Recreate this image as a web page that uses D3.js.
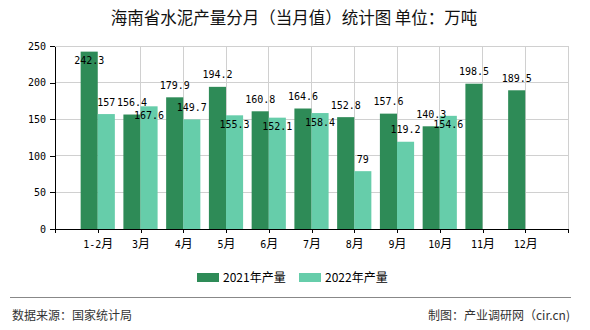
<!DOCTYPE html>
<html><head><meta charset="utf-8">
<script src="https://cdn.jsdelivr.net/npm/d3@7/dist/d3.min.js"></script>
<style>
html,body{margin:0;padding:0;background:#fff;}
svg{display:block;}
</style></head>
<body>
<svg id="chart" width="590" height="330"></svg>
<script>
const categories = ["1-2月","3月","4月","5月","6月","7月","8月","9月","10月","11月","12月"];
const values2021 = [242.3,156.4,179.9,194.2,160.8,164.6,152.8,157.6,140.3,198.5,189.5];
const values2022 = [157,167.6,149.7,155.3,152.1,158.4,79,119.2,154.6,null,null];
const seriesNames = ["2021年产量","2022年产量"];
const yTicks = [0,50,100,150,200,250];
const titleText = "海南省水泥产量分月（当月值）统计图 单位：万吨";
const sourceText = "数据来源：国家统计局";
const makerText = "制图：产业调研网（cir.cn)";

const colors = ["#2e8b57","#66cdaa"];
const W = 590, H = 330;
const plot = {left:55, right:568, top:46, bottom:229};
const monoFont = "'DejaVu Sans Mono', 'Liberation Mono', monospace";
const cjkFont = "'Noto Sans CJK SC', 'Noto Sans', sans-serif";

const svg = d3.select("#chart");

const x = d3.scalePoint().domain(categories).range([plot.left, plot.right]).padding(1);
const y = d3.scaleLinear().domain([0, 250]).range([plot.bottom, plot.top]);
const barW = x.step() * 0.4;

// title
svg.append("text").attr("x", 294).attr("y", 18.5).attr("dy", "0.35em")
  .attr("text-anchor", "middle").attr("font-family", cjkFont).attr("font-size", 16.5)
  .attr("fill", "#111").text(titleText);

// grid
const grid = svg.append("g");
grid.selectAll("line.h").data(yTicks.filter(t => t > 0)).join("line")
  .attr("x1", plot.left).attr("x2", plot.right)
  .attr("y1", d => y(d)).attr("y2", d => y(d))
  .attr("stroke", "#d0d0d0").attr("stroke-width", 1).attr("shape-rendering", "crispEdges");
grid.selectAll("line.v").data(categories.slice(1)).join("line")
  .attr("x1", d => x(d)).attr("x2", d => x(d))
  .attr("y1", plot.top).attr("y2", plot.bottom)
  .attr("stroke", "#d0d0d0").attr("stroke-width", 1).attr("shape-rendering", "crispEdges");
grid.append("line").attr("x1", plot.right).attr("x2", plot.right)
  .attr("y1", plot.top).attr("y2", plot.bottom)
  .attr("stroke", "#d0d0d0").attr("shape-rendering", "crispEdges");

// bars
const series = [values2021, values2022];
const barsG = svg.append("g");
series.forEach((vals, si) => {
  barsG.selectAll("rect.s" + si)
    .data(categories.map((c, i) => ({c, v: vals[i]})).filter(d => d.v != null))
    .join("rect")
    .attr("x", d => si === 0 ? x(d.c) - barW : x(d.c))
    .attr("y", d => y(d.v))
    .attr("width", barW)
    .attr("height", d => y(0) - y(d.v))
    .attr("fill", colors[si]);
});

// axes
const yAxis = svg.append("g").attr("transform", `translate(${plot.left},0)`)
  .call(d3.axisLeft(y).tickValues(yTicks).tickSize(5).tickSizeOuter(0).tickPadding(4));
yAxis.selectAll("path,line").attr("stroke", "#000").attr("shape-rendering", "crispEdges");
yAxis.selectAll("text").attr("font-family", monoFont).attr("font-size", 10).attr("fill", "#000");

const xAxis = svg.append("g").attr("transform", `translate(0,${plot.bottom})`)
  .call(d3.axisBottom(x).tickSize(4).tickSizeOuter(4).tickPadding(4));
xAxis.selectAll("path,line").attr("stroke", "#000").attr("shape-rendering", "crispEdges");
xAxis.selectAll("text").each(function(d) {
  const t = d3.select(this);
  t.text(null).attr("fill", "#000").attr("dy", "1.05em");
  const m = d.match(/^(.*?)(月)$/);
  t.append("tspan").attr("font-family", monoFont).attr("font-size", 10).text(m[1]);
  t.append("tspan").attr("font-family", cjkFont).attr("font-size", 12).text(m[2]);
});

// data labels with simple overlap avoidance
const labelsG = svg.append("g");
const placed = [];
const LH = 12;
function overlaps(a, b) {
  return a.x0 < b.x1 && a.x1 > b.x0 && a.y0 < b.y1 && a.y1 > b.y0;
}
series.forEach((vals, si) => {
  categories.forEach((c, i) => {
    const v = vals[i];
    if (v == null) return;
    const cx = si === 0 ? x(c) - barW / 2 : x(c) + barW / 2;
    const top = y(v);
    const t = labelsG.append("text").attr("x", cx).attr("text-anchor", "middle")
      .attr("dy", "0.35em").attr("font-family", monoFont).attr("font-size", 10)
      .attr("fill", "#000").text(String(v));
    const w = t.node().getComputedTextLength();
    let cy = top - 12;
    let box = {x0: cx - w / 2, x1: cx + w / 2, y0: cy - LH / 2, y1: cy + LH / 2};
    if (box.y0 < plot.top || placed.some(p => overlaps(box, p))) {
      cy = top + 9;
      box = {x0: cx - w / 2, x1: cx + w / 2, y0: cy - LH / 2, y1: cy + LH / 2};
    }
    placed.push(box);
    t.attr("y", cy);
  });
});

// legend
const legend = svg.append("g");
const legendX = [197, 299];
seriesNames.forEach((n, i) => {
  legend.append("rect").attr("x", legendX[i]).attr("y", 273).attr("width", 22).attr("height", 9)
    .attr("fill", colors[i]);
  legend.append("text").attr("x", legendX[i] + 26).attr("y", 277.5).attr("dy", "0.35em")
    .attr("font-family", cjkFont).attr("font-size", 12).attr("fill", "#000").text(n);
});

// footer
svg.append("line").attr("x1", 10).attr("x2", 571).attr("y1", 297.5).attr("y2", 297.5)
  .attr("stroke", "#888").attr("stroke-width", 1);
svg.append("text").attr("x", 12).attr("y", 316).attr("dy", "0.35em")
  .attr("font-family", cjkFont).attr("font-size", 12).attr("fill", "#333").text(sourceText);
svg.append("text").attr("x", 570).attr("y", 316).attr("dy", "0.35em").attr("text-anchor", "end")
  .attr("font-family", cjkFont).attr("font-size", 12).attr("fill", "#333").text(makerText);
</script>
</body></html>
